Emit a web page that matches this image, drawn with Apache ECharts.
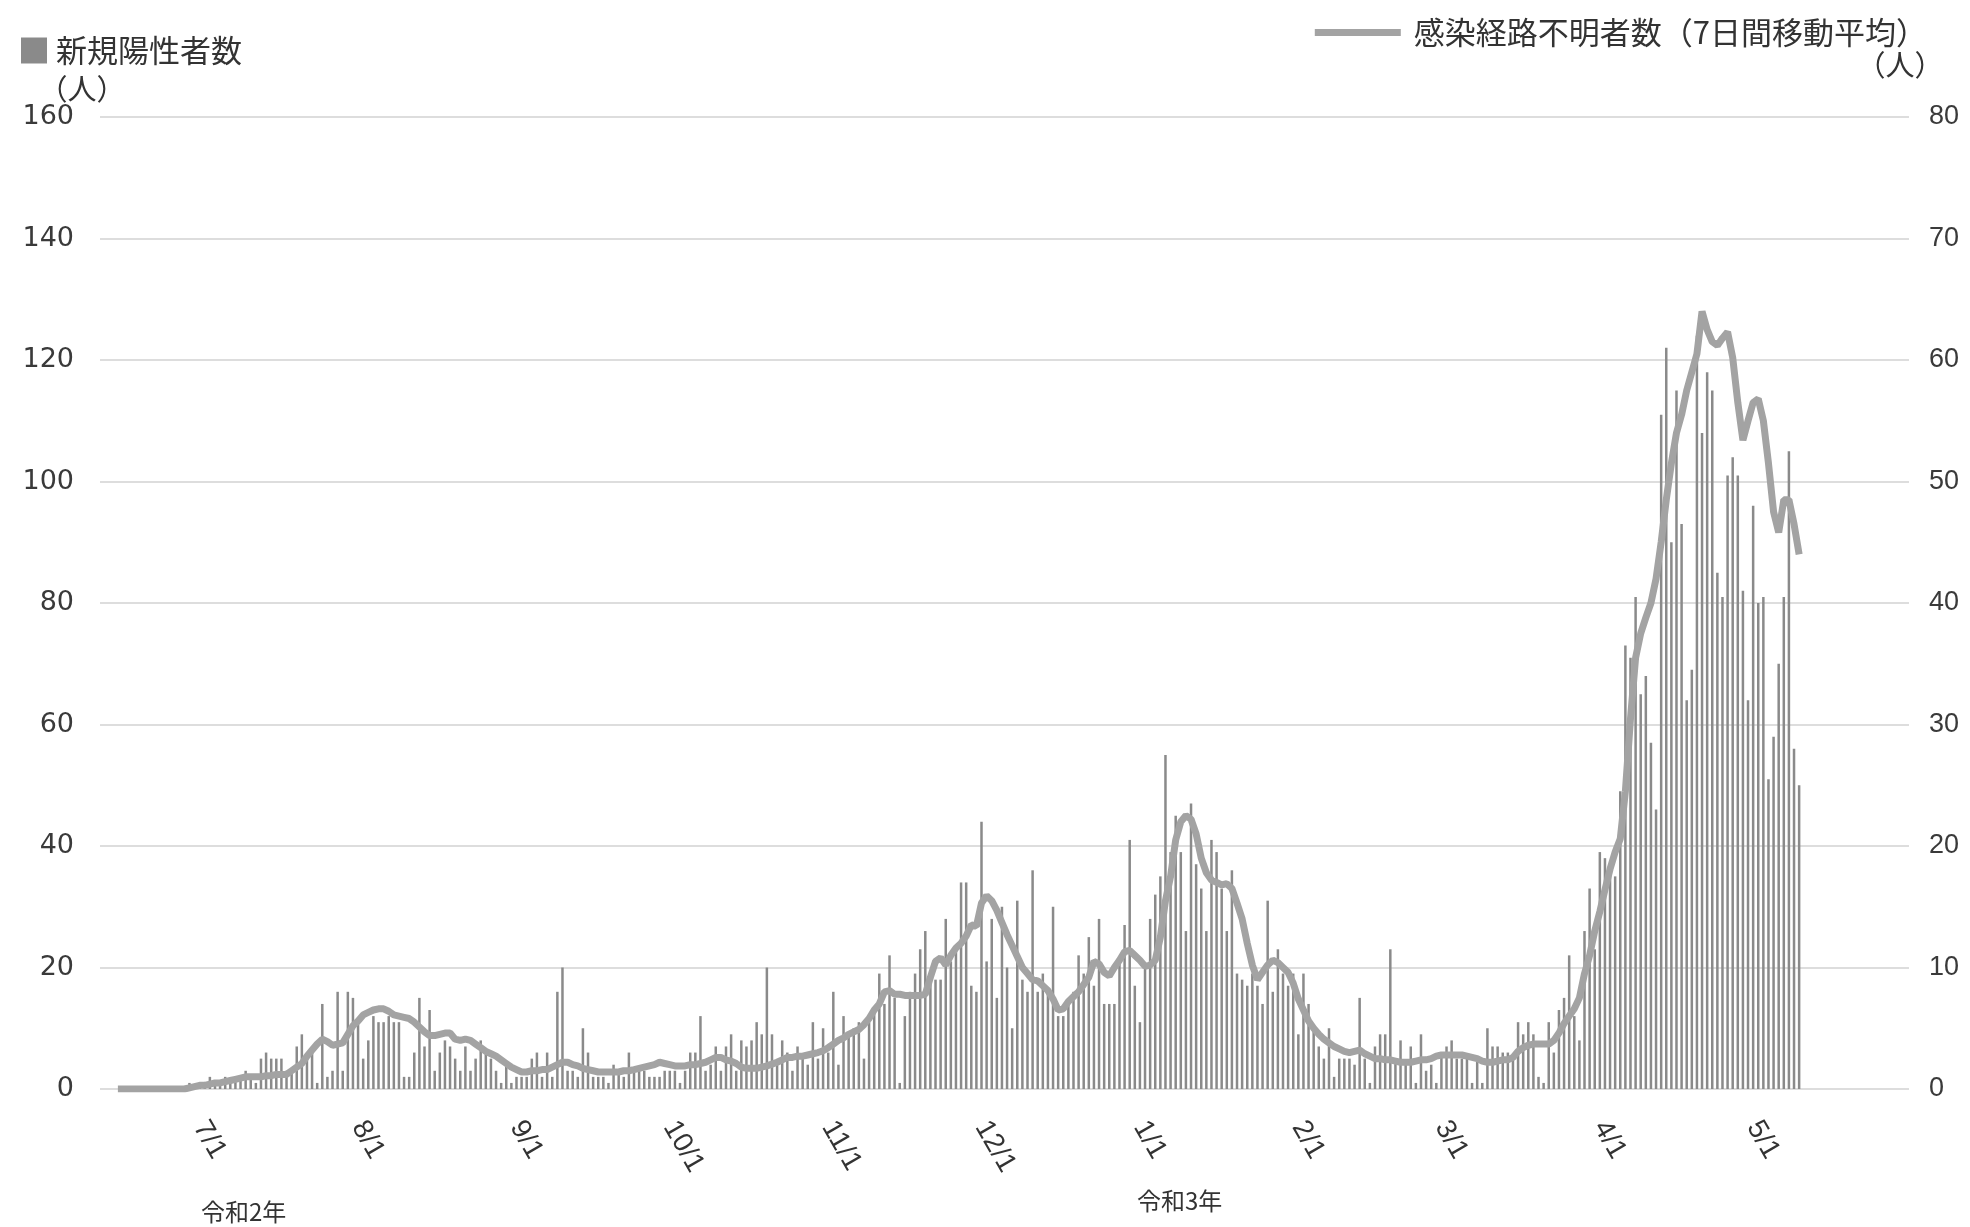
<!DOCTYPE html>
<html>
<head>
<meta charset="utf-8">
<script src="https://cdn.jsdelivr.net/npm/echarts@6/dist/echarts.min.js"></script>
<style>
html,body{margin:0;padding:0;background:#fff;}
#chart{width:1970px;height:1227px;}
</style>
</head>
<body>
<div id="chart"></div>
<script>
// ---- data (daily, starting 2020-06-12) ----
const tickLabels = ['7/1','8/1','9/1','10/1','11/1','12/1','1/1','2/1','3/1','4/1','5/1'];
const yearLabels = ['令和2年','令和3年'];

// new positive cases (left axis)
const junBars = [null,null,null,0,0,0,0,0,0,0,0,0,0,0,0,0,0,1,0];
const julBars = [1,1,2,1,1,2,1,2,2,3,2,1,5,6,5,5,5,3,3,7,9,5,6,1,14,2,3,16,3,16,15];
const augBars = [11,5,8,12,11,11,12,11,11,2,2,6,15,7,13,3,6,8,7,5,3,7,3,5,8,6,5,3,1,4,1];
const sepBars = [2,2,2,5,6,2,6,2,16,20,3,3,2,10,6,2,2,2,1,4,3,2,6,3,3,3,2,2,2,3];
const octBars = [3,3,1,3,6,6,12,3,4,7,3,7,9,3,8,7,8,11,9,20,9,4,8,6,3,7,5,4,11,5,10];
const novBars = [6,16,4,12,9,10,11,5,11,13,19,14,22,15,1,12,16,19,23,26,19,18,18,28,21,23,34,34,17,16];
const decBars = [44,21,28,15,30,20,10,31,18,16,36,16,19,16,30,12,12,14,16,22,19,25,17,28,14,14,14,21,27,41,17];
const janBars = [11,20,28,32,35,55,39,45,39,26,47,37,33,26,41,39,33,26,36,19,18,17,19,17,14,31,16,23,19,17,19];
const febBars = [9,19,14,10,7,5,10,2,5,5,5,4,15,5,1,7,9,9,23,5,8,4,7,1,9,3,4,1];
const marBars = [6,7,8,5,5,5,1,5,1,10,7,7,6,6,5,11,9,11,9,2,1,11,6,13,15,22,12,8,26,33,23];
const aprBars = [39,38,36,35,49,73,71,81,65,68,57,46,111,122,90,115,93,64,69,124,108,118,115,85,81,101,104,101,82,64];
const mayBars = [96,80,81,51,58,70,81,105,56,50];

// unknown-route cases, 7-day moving average (right axis)
const junLine = [null,null,null,0,0,0,0,0,0,0,0,0,0,0,0,0,0,0.1,0.2];
const julLine = [0.3,0.3,0.4,0.5,0.5,0.6,0.7,0.8,0.9,1.0,1.0,1.0,1.0,1.1,1.1,1.2,1.2,1.2,1.5,1.8,2.1,2.7,3.2,3.7,4.1,3.9,3.6,3.7,3.8,4.5,5.2];
const augLine = [5.6,6.1,6.3,6.5,6.6,6.6,6.4,6.1,6.0,5.9,5.8,5.5,5.1,4.7,4.4,4.4,4.5,4.6,4.6,4.1,4.0,4.1,4.0,3.7,3.4,3.1,2.9,2.7,2.4,2.1,1.8];
const sepLine = [1.6,1.4,1.4,1.5,1.5,1.6,1.6,1.8,2.0,2.2,2.2,2.0,1.9,1.7,1.6,1.5,1.4,1.4,1.4,1.4,1.4,1.5,1.5,1.6,1.7,1.8,1.9,2.0,2.2,2.1];
const octLine = [2.0,1.9,1.9,1.9,2.0,2.0,2.1,2.2,2.4,2.6,2.6,2.4,2.3,2.1,1.8,1.7,1.7,1.7,1.8,1.9,2.05,2.2,2.4,2.6,2.6,2.7,2.7,2.8,2.9,3.0,3.15];
const novLine = [3.4,3.7,4.0,4.2,4.5,4.7,4.9,5.3,5.8,6.5,7.0,8.0,8.1,7.8,7.8,7.7,7.7,7.7,7.7,7.8,9.2,10.5,10.8,10.2,11.0,11.6,12.0,12.6,13.5,13.4];
const decLine = [15.3,15.9,15.5,14.7,13.7,12.7,11.8,10.9,10.0,9.5,9.0,8.9,8.5,8.1,7.4,6.5,6.6,7.2,7.6,8.0,8.6,9.2,10.5,10.3,9.6,9.3,10.0,10.6,11.3,11.4,11.0];
const janLine = [10.6,10.1,10.2,10.6,12.5,15.5,17.5,20.5,22.0,22.5,22.2,21.0,19.0,17.8,17.2,17.0,16.8,16.9,16.5,15.3,14.0,12.0,10.2,9.0,9.6,10.2,10.6,10.4,10.0,9.6,8.7];
const febLine = [7.4,6.5,5.6,5.0,4.5,4.1,3.8,3.5,3.3,3.1,3.0,3.1,3.2,2.9,2.7,2.5,2.5,2.4,2.4,2.3,2.2,2.2,2.2,2.3,2.4,2.4,2.5,2.7];
const marLine = [2.8,2.8,2.8,2.8,2.8,2.7,2.6,2.5,2.3,2.2,2.2,2.3,2.4,2.4,2.6,3.1,3.4,3.6,3.7,3.7,3.7,3.7,4.0,4.6,5.4,6.0,6.6,7.5,9.5,11.0,13.0];
const aprLine = [14.6,16.4,18.1,19.5,20.6,24.5,30.5,35.5,37.5,38.8,40.0,42.0,45.0,48.5,51.5,54.0,55.5,57.5,59.0,60.5,64.0,62.5,61.5,61.2,61.8,62.3,60.2,56.5,53.4,55.0];
const mayLine = [56.5,56.8,55.0,51.5,47.5,45.8,48.5,48.5,46.5,44.0];

// ---- build ----
const NDAYS = 354; // 2020-06-12 .. 2021-05-31
const categories = [];
for (let i = 0; i < NDAYS; i++) {
  const dt = new Date(2020, 5, 12 + i);
  categories.push((dt.getMonth() + 1) + '/' + dt.getDate());
}
function pad(arr) { const a = arr.slice(); while (a.length < NDAYS) a.push(null); return a; }
const barData = pad([].concat(junBars, julBars, augBars, sepBars, octBars, novBars, decBars, janBars, febBars, marBars, aprBars, mayBars));
const lineData = pad([].concat(junLine, julLine, augLine, sepLine, octLine, novLine, decLine, janLine, febLine, marLine, aprLine, mayLine));

const textColor = '#333';
const cjk = 'Noto Sans CJK JP';
const num = 'Liberation Sans';

const chart = echarts.init(document.getElementById('chart'), null, {renderer: 'canvas'});
chart.setOption({
  backgroundColor: '#fff',
  animation: false,
  grid: {left: 100, right: 61, top: 117, bottom: 138},
  legend: [
    {
      data: ['新規陽性者数'], left: 16, top: 30, icon: 'rect', itemWidth: 26, itemHeight: 26,
      selectedMode: false,
      textStyle: {fontSize: 31, color: textColor, fontFamily: cjk, padding: [0, 0, 0, 4]}
    },
    {
      data: ['感染経路不明者数（7日間移動平均）'], right: 38, top: 12, icon: 'rect', itemWidth: 86, itemHeight: 7,
      selectedMode: false,
      textStyle: {fontSize: 31, color: textColor, fontFamily: cjk, padding: [0, 0, 0, 8]}
    }
  ],
  xAxis: {
    type: 'category', data: categories, boundaryGap: true,
    axisLine: {show: false}, axisTick: {show: false}, splitLine: {show: false},
    axisLabel: {
      interval: function (idx, val) { return tickLabels.indexOf(val) >= 0; },
      rotate: -60, fontSize: 28, color: textColor, fontFamily: num, margin: 34
    }
  },
  yAxis: [
    {
      type: 'value', min: 0, max: 160, interval: 20, position: 'left',
      axisLine: {show: false}, axisTick: {show: false},
      splitLine: {show: true, lineStyle: {color: '#d2d2d2', width: 1.5}},
      axisLabel: {fontSize: 27, color: '#3a3a3a', fontFamily: 'DejaVu Sans', margin: 26},
      name: '（人）', nameLocation: 'end', nameGap: 14,
      nameTextStyle: {fontSize: 29, color: textColor, fontFamily: cjk, align: 'center', padding: [0, 36, 0, 0]}
    },
    {
      type: 'value', min: 0, max: 80, interval: 10, position: 'right',
      axisLine: {show: false}, axisTick: {show: false}, splitLine: {show: false},
      axisLabel: {fontSize: 27, color: '#3a3a3a', fontFamily: num, margin: 20},
      name: '（人）', nameLocation: 'end', nameGap: 38,
      nameTextStyle: {fontSize: 29, color: textColor, fontFamily: cjk, align: 'center', padding: [0, 18, 0, 0]}
    }
  ],
  series: [
    {
      name: '新規陽性者数', type: 'bar', yAxisIndex: 0, data: barData, barWidth: 2.5,
      itemStyle: {color: '#8a8a8a'}, z: 2
    },
    {
      name: '感染経路不明者数（7日間移動平均）', type: 'line', yAxisIndex: 1, data: lineData,
      showSymbol: false, symbol: 'none', connectNulls: false,
      lineStyle: {color: '#a3a3a3', width: 7}, itemStyle: {color: '#a3a3a3'}, z: 3
    }
  ],
  graphic: [
    {type: 'text', left: 201, top: 1200, style: {text: yearLabels[0], fontSize: 24, fill: textColor, fontFamily: cjk}},
    {type: 'text', left: 1137, top: 1189, style: {text: yearLabels[1], fontSize: 24, fill: textColor, fontFamily: cjk}}
  ]
});
</script>
</body>
</html>
